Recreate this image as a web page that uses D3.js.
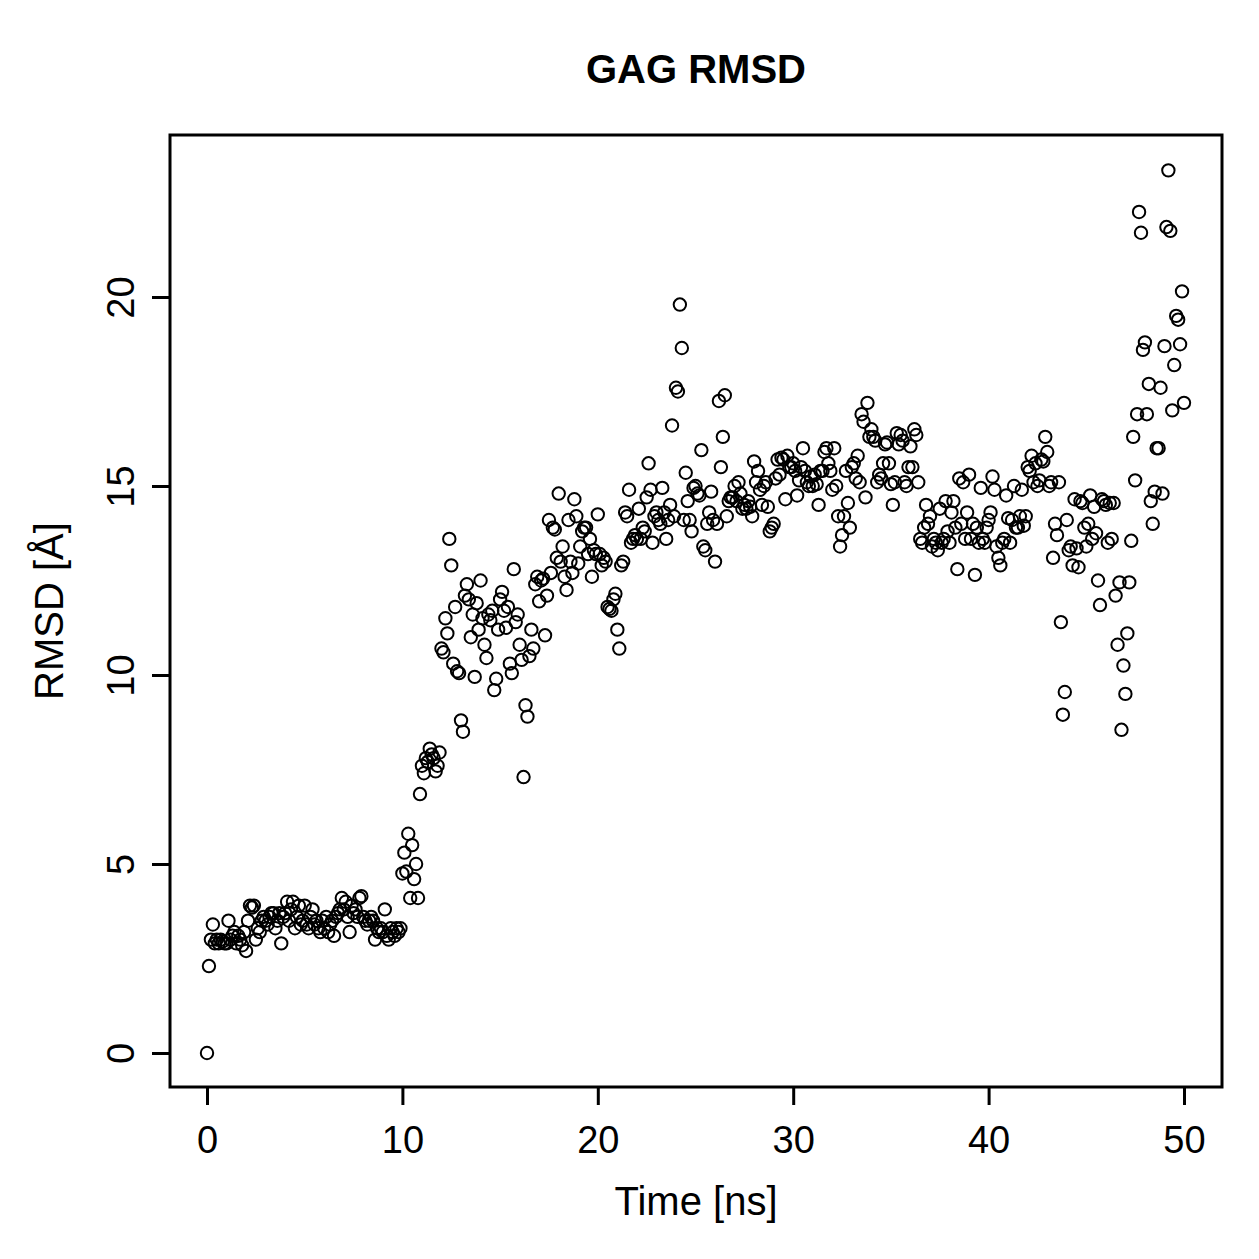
<!DOCTYPE html>
<html>
<head>
<meta charset="utf-8">
<script src="https://cdn.jsdelivr.net/npm/d3@7"></script>
<style>
  body { margin: 0; background: #fff; }
  svg text { font-family: "Liberation Sans", Arial, Helvetica, sans-serif; fill: #000; }
</style>
</head>
<body>
<div id="chart"></div>
<script>
// time step of the trajectory (ns) and RMSD per frame (Å)
const timeStep = 0.1;
const rmsd = [
  0, 2.3, 3.0, 3.4, 2.9, 3.0, 2.9, 3.0, 2.95, 2.9,
  2.9, 3.5, 3.0, 3.1, 3.2, 2.9, 3.1, 3.0, 2.85, 3.2,
  2.7, 3.5, 3.9, 3.85, 3.9, 3.0, 3.3, 3.2, 3.5, 3.6,
  3.5, 3.4, 3.6, 3.7, 3.7, 3.3, 3.5, 3.7, 2.9, 3.6,
  3.7, 4.0, 3.5, 3.8, 4.0, 3.3, 3.6, 3.9, 3.4, 3.5,
  3.9, 3.4, 3.3, 3.6, 3.8, 3.4, 3.5, 3.3, 3.2, 3.5,
  3.3, 3.6, 3.2, 3.4, 3.5, 3.1, 3.6, 3.7, 3.8, 4.1,
  3.8, 4.0, 3.6, 3.2, 3.9, 3.7, 3.8, 3.6, 4.1, 4.15,
  3.6, 3.5, 3.4, 3.5, 3.6, 3.5, 3.0, 3.3, 3.2, 3.3,
  3.2, 3.8, 3.1, 3.0, 3.3, 3.2, 3.1, 3.3, 3.2, 3.3,
  4.75, 5.3, 4.8, 5.8, 4.1, 5.5, 4.6, 5.0, 4.1, 6.85,
  7.6, 7.4, 7.8, 7.7, 8.05, 7.9, 7.8, 7.45, 7.6, 7.95,
  10.7, 10.6, 11.5, 11.1, 13.6, 12.9, 10.3, 11.8, 10.1, 10.05,
  8.8, 8.5, 12.1, 12.4, 12.0, 11.0, 11.6, 9.95, 11.9, 11.2,
  12.5, 11.5, 10.8, 10.45, 11.6, 11.45, 11.7, 9.6, 9.9, 11.2,
  12.0, 12.2, 11.7, 11.25, 11.8, 10.3, 10.05, 12.8, 11.4, 11.6,
  10.8, 10.4, 7.3, 9.2, 8.9, 10.5, 11.2, 10.7, 12.4, 12.6,
  11.95, 12.5, 12.55, 11.05, 12.1, 14.1, 12.7, 13.9, 13.85, 13.1,
  14.8, 13.0, 13.4, 12.6, 12.25, 14.1, 13.0, 12.7, 14.65, 14.2,
  12.95, 13.4, 13.8, 13.9, 13.9, 13.2, 13.6, 12.6, 13.3, 13.2,
  14.25, 13.2, 12.9, 13.1, 13.0, 11.8, 11.75, 11.7, 12.0, 12.15,
  11.2, 10.7, 12.9, 13.0, 14.3, 14.2, 14.9, 13.5, 13.6, 13.7,
  13.6, 14.4, 13.6, 13.9, 13.8, 14.7, 15.6, 14.9, 13.5, 14.2,
  14.3, 14.1, 14.0, 14.95, 14.3, 13.6, 14.1, 14.5, 16.6, 14.2,
  17.6, 17.5, 19.8, 18.65, 14.1, 15.35, 14.6, 14.1, 13.8, 14.95,
  15.0, 14.8, 14.75, 15.95, 13.4, 13.3, 14.0, 14.3, 14.85, 14.1,
  13.0, 14.0, 17.25, 15.5, 16.3, 17.4, 14.2, 14.6, 14.7, 14.7,
  15.0, 14.6, 15.1, 14.8, 14.4, 14.5, 14.4, 14.6, 14.45, 14.2,
  15.65, 15.1, 15.4, 14.9, 14.5, 15.0, 15.1, 14.45, 13.8, 13.9,
  14.0, 15.2, 15.7, 15.3, 15.75, 15.7, 14.65, 15.8, 15.5, 15.5,
  15.6, 15.4, 14.75, 15.15, 15.5, 16.0, 15.4, 15.1, 15.0, 15.25,
  15.0, 15.3, 15.05, 14.5, 15.4, 15.4, 15.9, 16.0, 15.6, 15.4,
  14.9, 16.0, 15.0, 14.2, 13.4, 13.7, 14.2, 15.4, 14.55, 13.9,
  15.5, 15.6, 15.2, 15.8, 15.1, 16.9, 16.7, 14.7, 17.2, 16.3,
  16.5, 16.3, 16.2, 15.1, 15.3, 15.2, 15.6, 16.1, 16.15, 15.6,
  15.05, 14.5, 15.1, 16.4, 16.1, 16.35, 16.2, 15.1, 15.0, 15.5,
  16.05, 15.5, 16.5, 16.35, 15.1, 13.6, 13.5, 13.9, 14.5, 14.0,
  14.2, 13.4, 13.6, 13.5, 13.3, 14.4, 13.5, 13.6, 14.6, 13.8,
  13.5, 14.3, 14.6, 13.9, 12.8, 15.2, 14.0, 15.1, 13.6, 14.3,
  15.3, 13.6, 14.0, 12.65, 13.9, 13.5, 14.95, 13.6, 13.5, 13.9,
  14.1, 14.3, 15.25, 14.9, 13.4, 13.1, 12.9, 13.5, 13.6, 14.75,
  14.15, 13.5, 14.1, 15.0, 13.9, 13.9, 14.2, 14.9, 13.95, 14.2,
  15.5, 15.4, 15.8, 15.1, 15.6, 15.0, 15.15, 15.7, 15.65, 16.3,
  15.9, 15.0, 15.1, 13.1, 14.0, 13.7, 15.1, 11.4, 8.95, 9.55,
  14.1, 13.3, 13.4, 12.9, 14.65, 13.35, 12.85, 14.6, 14.55, 13.9,
  13.4, 14.0, 14.75, 13.6, 14.45, 13.75, 12.5, 11.85, 14.65, 14.6,
  14.5, 13.5, 14.55, 13.6, 14.55, 12.1, 10.8, 12.45, 8.55, 10.25,
  9.5, 11.1, 12.45, 13.55, 16.3, 15.15, 16.9, 22.25, 21.7, 18.6,
  18.8, 16.9, 17.7, 14.6, 14.0, 14.85, 16.0, 16.0, 17.6, 14.8,
  18.7, 21.85, 23.35, 21.75, 17.0, 18.2, 19.5, 19.4, 18.75, 20.15,
  17.2
];
const xTicks = [0, 10, 20, 30, 40, 50];
const yTicks = [0, 5, 10, 15, 20];

const W = 1259, H = 1259;
const box = {left: 170, right: 1222, top: 135, bottom: 1087};

const data = rmsd.map((v, i) => ({t: +(i * timeStep).toFixed(1), v: v}));

// scales calibrated on the reference tick positions
const x = d3.scaleLinear().domain([0, 50]).range([207, 1184]);
const y = d3.scaleLinear().domain([0, 20]).range([1053, 297]);

const svg = d3.select("#chart").append("svg")
  .attr("width", W)
  .attr("height", H);

svg.append("rect").attr("width", W).attr("height", H).attr("fill", "#fff");

// points
svg.append("g")
  .selectAll("circle")
  .data(data)
  .enter()
  .append("circle")
    .attr("cx", d => x(d.t))
    .attr("cy", d => y(d.v))
    .attr("r", 6.2)
    .attr("fill", "none")
    .attr("stroke", "#000")
    .attr("stroke-width", 2);

// frame
svg.append("rect")
  .attr("x", box.left)
  .attr("y", box.top)
  .attr("width", box.right - box.left)
  .attr("height", box.bottom - box.top)
  .attr("fill", "none")
  .attr("stroke", "#000")
  .attr("stroke-width", 3);

// axes
const xAxis = svg.append("g")
  .attr("transform", "translate(0," + box.bottom + ")")
  .call(d3.axisBottom(x).tickValues(xTicks).tickSize(18).tickPadding(21).tickFormat(d3.format("d")));
const yAxis = svg.append("g")
  .attr("transform", "translate(" + box.left + ",0)")
  .call(d3.axisLeft(y).tickValues(yTicks).tickSize(18).tickPadding(12).tickFormat(d3.format("d")));

[xAxis, yAxis].forEach(a => {
  a.select(".domain").remove();
  a.selectAll(".tick line").attr("stroke", "#000").attr("stroke-width", 3);
  a.selectAll(".tick text").style("font-size", "38px").attr("fill", "#000");
});

// y tick labels are vertical in R
yAxis.selectAll(".tick text")
  .attr("text-anchor", "middle")
  .attr("x", null)
  .attr("dy", null)
  .attr("transform", "translate(-36,0) rotate(-90)");

// titles
svg.append("text")
  .attr("x", (box.left + box.right) / 2)
  .attr("y", 83)
  .attr("text-anchor", "middle")
  .style("font-size", "40px")
  .style("font-weight", "bold")
  .text("GAG RMSD");

svg.append("text")
  .attr("x", (box.left + box.right) / 2)
  .attr("y", 1215)
  .attr("text-anchor", "middle")
  .style("font-size", "40px")
  .text("Time [ns]");

svg.append("text")
  .attr("transform", "translate(63," + (box.top + box.bottom) / 2 + ") rotate(-90)")
  .attr("text-anchor", "middle")
  .style("font-size", "40px")
  .text("RMSD [Å]");
</script>
</body>
</html>
